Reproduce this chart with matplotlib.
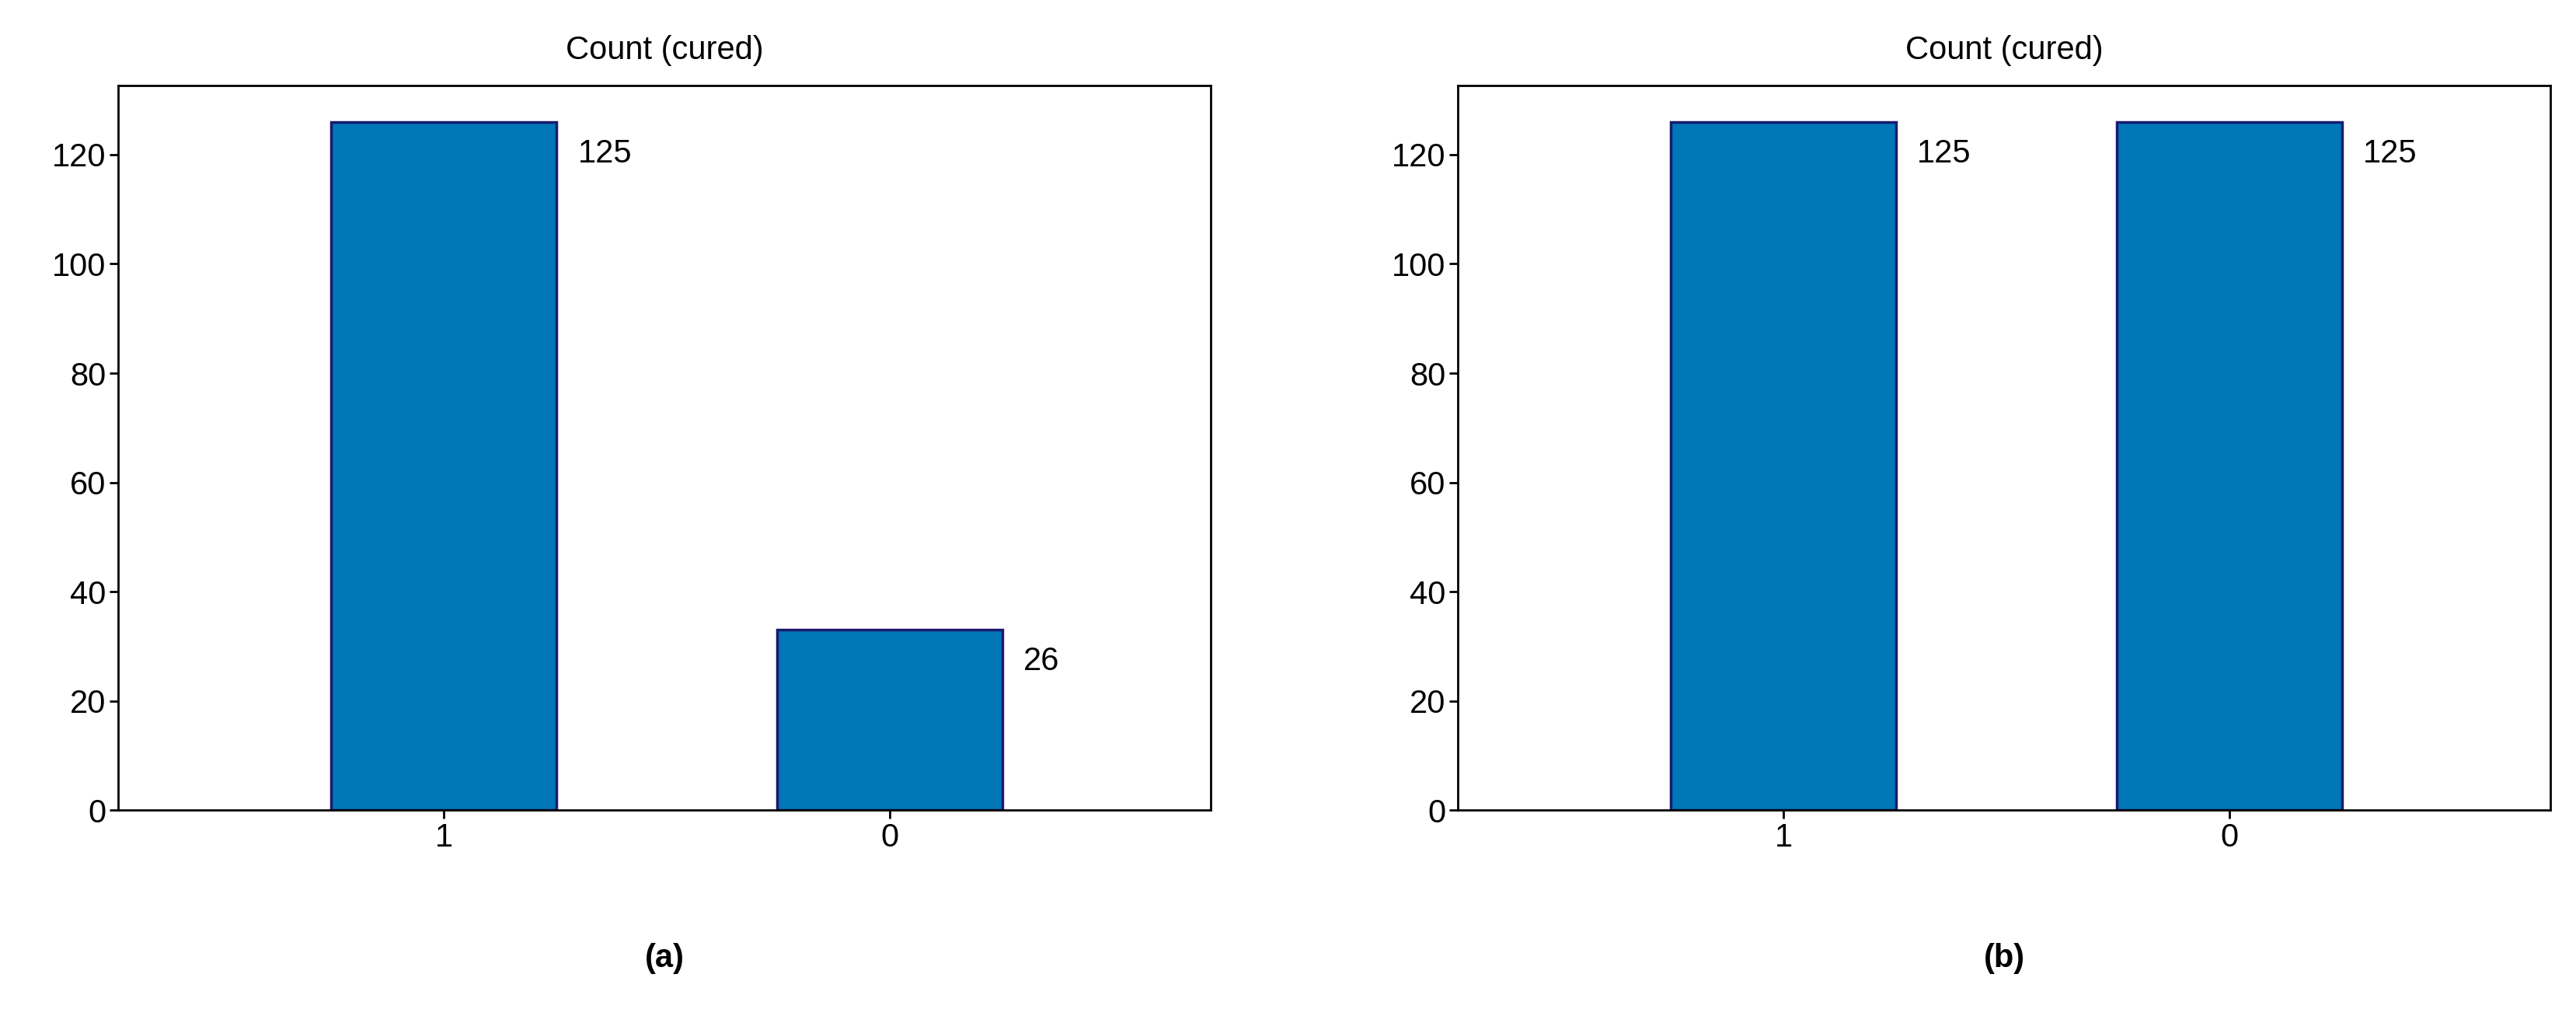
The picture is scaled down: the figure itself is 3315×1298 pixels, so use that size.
import matplotlib
matplotlib.use("Agg")
from matplotlib import pyplot as plt

plt.rcParams['font.family'] = ['Liberation Sans', 'DejaVu Sans']

categories = ["1", "0"]
heights_a = [126, 33]
labels_a = ["125", "26"]
heights_b = [126, 126]
labels_b = ["125", "125"]
panel_tags = ["(a)", "(b)"]

fig = plt.figure(figsize=(33.15, 12.98), dpi=100)
lefts = [0.046, 0.566]

for left, h, lab, tag in zip(lefts, [heights_a, heights_b], [labels_a, labels_b], panel_tags):
    ax = fig.add_axes([left, 0.197, 0.424, 0.718])
    x = range(len(categories))
    ax.bar(x, h, width=0.505, color="#0077b6", edgecolor="#1a1a6e", linewidth=2.5)
    for xi, hi, t in zip(x, h, lab):
        ax.text(xi + 0.3, hi - 3, t, fontsize=30, va="top", ha="left")
    ax.set_xticks(list(x))
    ax.set_xticklabels(categories)
    ax.set_xlim(-0.73, 1.72)
    ax.set_ylim(0, 132.6)
    ax.set_yticks(range(0, 121, 20))
    ax.tick_params(labelsize=30, width=2, length=8)
    for s in ax.spines.values():
        s.set_linewidth(2)
    ax.set_title("Count (cured)", fontsize=30, pad=25)
    fig.text(left + 0.212, 0.05, tag, fontsize=30, fontweight="bold", ha="center", va="center")

fig.savefig("out.png", dpi=100)
